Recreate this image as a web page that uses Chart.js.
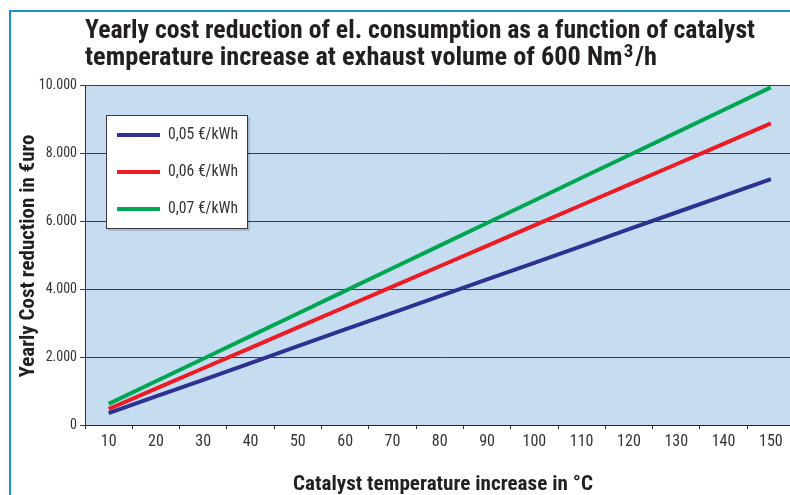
<!DOCTYPE html>
<html lang="en">
<head>
<meta charset="UTF-8">
<title>Yearly cost reduction</title>
<script src="https://cdn.jsdelivr.net/npm/chart.js@4.4.1/dist/chart.umd.min.js"></script>
<style>
    body { margin: 0; width: 790px; height: 495px; overflow: hidden; background: #fff; position: relative; }
    #frame { position: absolute; left: 9px; top: 10px; width: 800px; height: 500px;
             border-left: 2px solid #1b8fd6; border-top: 2px solid #1b8fd6; }
    #myChart { position: absolute; left: 0; top: 0; }
</style>
</head>
<body>
<div id="frame"></div>
<canvas id="myChart" width="800" height="495"></canvas>
<script>
    // data
    const temperatures = ['10', '20', '30', '40', '50', '60', '70', '80', '90', '100', '110', '120', '130', '140', '150'];
    const cost005 = [350, 840, 1330, 1820, 2320, 2810, 3300, 3790, 4280, 4770, 5260, 5760, 6250, 6740, 7230];
    const cost006 = [470, 1070, 1670, 2270, 2870, 3470, 4070, 4670, 5270, 5870, 6470, 7070, 7670, 8270, 8870];
    const cost007 = [620, 1285, 1950, 2615, 3280, 3945, 4610, 5275, 5940, 6605, 7270, 7935, 8600, 9265, 9930];
    const seriesNames = ['0,05 €/kWh', '0,06 €/kWh', '0,07 €/kWh'];
    const yTicks = [0, 2000, 4000, 6000, 8000, 10000];

    const FONT = "'Liberation Sans Narrow', 'Roboto Condensed', 'DejaVu Sans Condensed', 'Liberation Sans', Arial, sans-serif";
    const colors = ['#2e3192', '#ed1c24', '#00a651'];

    // text fitted to the width it has in the original (condensed face)
    function fitText(ctx, text, x, y, width) {
        const sx = width / ctx.measureText(text).width;
        ctx.save();
        ctx.translate(x, y);
        ctx.scale(sx, 1);
        ctx.fillText(text, 0, 0);
        ctx.restore();
        return sx;
    }

    const decorPlugin = {
        id: 'decor',
        beforeDraw(chart) {
            const { ctx, chartArea: a } = chart;
            ctx.save();
            ctx.fillStyle = '#c6ddf1';
            ctx.fillRect(a.left, a.top, a.right - a.left, a.bottom - a.top);
            ctx.restore();
        },
        afterDraw(chart) {
            const { ctx } = chart;
            ctx.save();
            ctx.fillStyle = '#231f20';
            ctx.textBaseline = 'alphabetic';
            ctx.textAlign = 'left';

            // title
            ctx.font = 'bold 25px ' + FONT;
            fitText(ctx, 'Yearly cost reduction of el. consumption as a function of catalyst', 85, 37.5, 670);
            const part = 'temperature increase at exhaust volume of 600 Nm';
            const wPart = ctx.measureText(part).width;
            const wSlash = ctx.measureText('/h').width;
            ctx.font = 'bold 18px ' + FONT;
            const wSup = ctx.measureText('3').width + 3;
            const sx2 = 572 / (wPart + wSup + wSlash);
            ctx.save();
            ctx.translate(85, 64.5);
            ctx.scale(sx2, 1);
            ctx.fillText('3', wPart + 1, -8);
            ctx.font = 'bold 25px ' + FONT;
            ctx.fillText(part, 0, 0);
            ctx.fillText('/h', wPart + wSup, 0);
            ctx.restore();

            // axis titles
            ctx.font = 'bold 20px ' + FONT;
            ctx.textAlign = 'center';
            ctx.save();
            ctx.translate(34, 256);
            ctx.rotate(-Math.PI / 2);
            fitText(ctx, 'Yearly Cost reduction in €uro', 0, 0, 243);
            ctx.restore();

            ctx.font = 'bold 21px ' + FONT;
            fitText(ctx, 'Catalyst temperature increase in °C', 443, 490, 300);

            // legend box
            ctx.textAlign = 'left';
            ctx.fillStyle = 'rgba(0,0,0,0.15)';
            ctx.fillRect(108, 117, 142, 114);
            ctx.fillStyle = '#ffffff';
            ctx.fillRect(106, 115, 142, 114);
            ctx.strokeStyle = '#3a3a3a';
            ctx.lineWidth = 1;
            ctx.strokeRect(106.5, 115.5, 141, 113);
            ctx.font = '16px ' + FONT;
            ctx.textBaseline = 'middle';
            chart.data.datasets.forEach((ds, i) => {
                const y = 135 + i * 37;
                ctx.strokeStyle = ds.borderColor;
                ctx.lineWidth = 4;
                ctx.beginPath();
                ctx.moveTo(117, y);
                ctx.lineTo(160, y);
                ctx.stroke();
                ctx.fillStyle = '#333333';
                fitText(ctx, ds.label, 168, y, 70);
            });
            ctx.restore();
        }
    };

    const ctx = document.getElementById('myChart').getContext('2d');
    const myChart = new Chart(ctx, {
        type: 'line',
        data: {
            labels: temperatures,
            datasets: [cost005, cost006, cost007].map((d, i) => ({
                label: seriesNames[i],
                data: d,
                borderColor: colors[i],
                backgroundColor: colors[i],
                borderWidth: 4,
                pointRadius: 0,
                tension: 0
            }))
        },
        options: {
            responsive: false,
            devicePixelRatio: 1,
            animation: false,
            layout: { padding: { left: 0, top: 85, right: 5.5, bottom: 40 } },
            plugins: {
                legend: { display: false },
                title: { display: false },
                tooltip: { enabled: false }
            },
            scales: {
                x: {
                    type: 'category',
                    offset: true,
                    afterFit: (s) => { s.height = 30; },
                    grid: { display: true, offset: true, drawOnChartArea: false, tickLength: 4, color: '#333' },
                    border: { display: true, color: '#222', width: 1 },
                    ticks: { color: '#333', padding: 3, maxRotation: 0, font: { family: FONT, size: 16 } }
                },
                y: {
                    min: 0,
                    max: 10000,
                    afterFit: (s) => { s.width = 85; },
                    afterBuildTicks: (s) => { s.ticks = yTicks.map(v => ({ value: v })); },
                    grid: { color: '#3a3a3a', lineWidth: 1, tickLength: 5 },
                    border: { display: true, color: '#333', width: 1 },
                    ticks: {
                        color: '#333',
                        padding: 3,
                        font: { family: FONT, size: 14 },
                        callback: (v) => String(v).replace(/\B(?=(\d{3})+(?!\d))/g, '.')
                    }
                }
            }
        },
        plugins: [decorPlugin]
    });
</script>
</body>
</html>
